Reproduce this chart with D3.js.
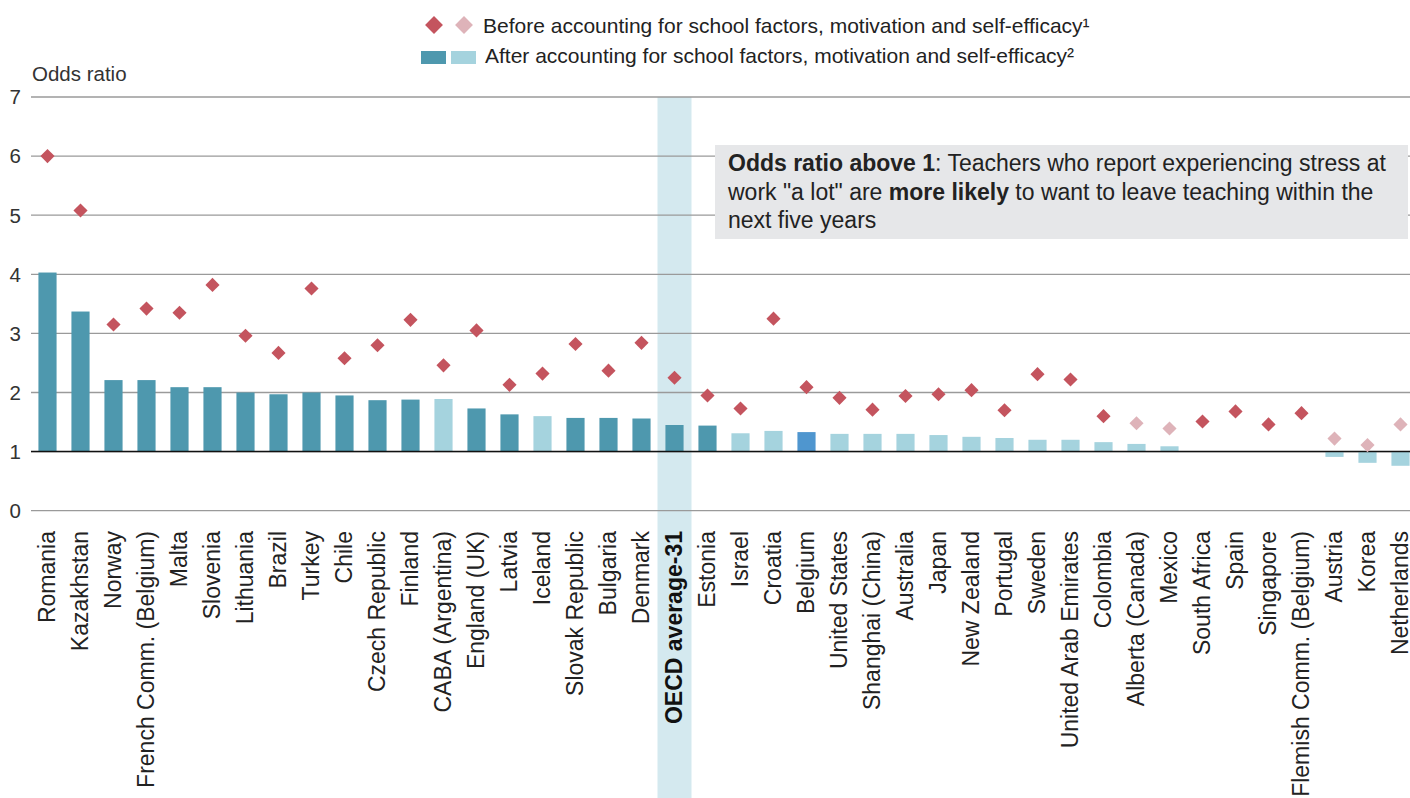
<!DOCTYPE html>
<html>
<head>
<meta charset="utf-8">
<script src="https://cdn.jsdelivr.net/npm/d3@7"></script>
<style>
  body { margin: 0; background: #fff; }
  svg { font-family: "Liberation Sans", Arial, sans-serif; display: block; }
</style>
</head>
<body>
<div id="chart"></div>
<script>
// countries in the order they appear
const countries = [
  'Romania', 'Kazakhstan', 'Norway', 'French Comm. (Belgium)', 'Malta', 'Slovenia',
  'Lithuania', 'Brazil', 'Turkey', 'Chile', 'Czech Republic', 'Finland',
  'CABA (Argentina)', 'England (UK)', 'Latvia', 'Iceland', 'Slovak Republic',
  'Bulgaria', 'Denmark', 'OECD average-31', 'Estonia', 'Israel', 'Croatia',
  'Belgium', 'United States', 'Shanghai (China)', 'Australia', 'Japan',
  'New Zealand', 'Portugal', 'Sweden', 'United Arab Emirates', 'Colombia',
  'Alberta (Canada)', 'Mexico', 'South Africa', 'Spain', 'Singapore',
  'Flemish Comm. (Belgium)', 'Austria', 'Korea', 'Netherlands'
];

// odds ratio after accounting for school factors (bars), null = not shown
const afterValues = [
  4.03, 3.37, 2.21, 2.21, 2.09, 2.09, 2.00, 1.97, 2.00, 1.95, 1.87, 1.88,
  1.89, 1.73, 1.63, 1.60, 1.57, 1.57, 1.56, 1.45, 1.44, 1.31, 1.35, 1.33,
  1.30, 1.30, 1.30, 1.28, 1.25, 1.23, 1.20, 1.20, 1.16, 1.13, 1.09,
  null, null, null, null, 0.91, 0.81, 0.76
];
// 'sig' = significant, 'ns' = not significant, 'hl' = highlighted
const afterType = [
  'sig', 'sig', 'sig', 'sig', 'sig', 'sig', 'sig', 'sig', 'sig', 'sig', 'sig', 'sig',
  'ns', 'sig', 'sig', 'ns', 'sig', 'sig', 'sig', 'sig', 'sig', 'ns', 'ns', 'hl',
  'ns', 'ns', 'ns', 'ns', 'ns', 'ns', 'ns', 'ns', 'ns', 'ns', 'ns',
  'ns', 'ns', 'ns', 'ns', 'ns', 'ns', 'ns'
];

// odds ratio before accounting (diamonds)
const beforeValues = [
  6.00, 5.08, 3.15, 3.42, 3.35, 3.82, 2.96, 2.67, 3.76, 2.58, 2.80, 3.23,
  2.46, 3.05, 2.13, 2.32, 2.82, 2.37, 2.84, 2.25, 1.95, 1.73, 3.25, 2.09,
  1.91, 1.71, 1.94, 1.97, 2.04, 1.70, 2.31, 2.22, 1.60, 1.48, 1.39,
  1.51, 1.68, 1.46, 1.65, 1.22, 1.11, 1.46
];
const beforeSig = [
  true, true, true, true, true, true, true, true, true, true, true, true,
  true, true, true, true, true, true, true, true, true, true, true, true,
  true, true, true, true, true, true, true, true, true, false, false,
  true, true, true, true, false, false, false
];

const yTicks = [0, 1, 2, 3, 4, 5, 6, 7];

const width = 1410, height = 798;
const plotLeft = 31, plotRight = 1417, plotTop = 97, plotBottom = 510.7;

const barColor = { sig: '#4e98ae', ns: '#a5d3de', hl: '#4f96cf' };
const diamondColor = { true: '#c4545e', false: '#deb3b9' };

const svg = d3.select('#chart').append('svg')
  .attr('width', width)
  .attr('height', height);

const x = d3.scaleBand()
  .domain(countries)
  .range([plotLeft, plotRight])
  .paddingInner(0.45)
  .paddingOuter(0.225);

const y = d3.scaleLinear()
  .domain([0, 7])
  .range([plotBottom, plotTop]);

const oecd = 'OECD average-31';

// highlight band for the OECD average
svg.append('rect')
  .attr('x', x(oecd) + x.bandwidth() / 2 - 17)
  .attr('y', y(7))
  .attr('width', 34)
  .attr('height', height - y(7))
  .attr('fill', '#d4e9ef');

// gridlines
svg.append('g').selectAll('line')
  .data(yTicks)
  .join('line')
  .attr('x1', plotLeft)
  .attr('x2', width)
  .attr('y1', d => y(d))
  .attr('y2', d => y(d))
  .attr('stroke', '#9a9a9a')
  .attr('stroke-width', 1.3);

// tick labels
svg.append('g').selectAll('text')
  .data(yTicks)
  .join('text')
  .attr('x', 21)
  .attr('y', d => y(d))
  .attr('dy', '0.36em')
  .attr('text-anchor', 'end')
  .attr('font-size', 20.5)
  .attr('fill', '#333')
  .text(d => d);

svg.append('text')
  .attr('x', 32)
  .attr('y', 81)
  .attr('font-size', 20.5)
  .attr('fill', '#333')
  .text('Odds ratio');

// note box
const box = svg.append('g').attr('transform', 'translate(715,145)');
box.append('rect')
  .attr('width', 693)
  .attr('height', 94)
  .attr('fill', '#e6e7e9');
const noteLines = [
  [['Odds ratio above 1', true], [': Teachers who report experiencing stress at', false]],
  [['work "a lot" are ', false], ['more likely', true], [' to want to leave teaching within the', false]],
  [['next five years', false]]
];
noteLines.forEach((parts, i) => {
  const t = box.append('text')
    .attr('x', 13)
    .attr('y', 26 + i * 28.5)
    .attr('font-size', 23)
    .attr('fill', '#222');
  parts.forEach(p => {
    t.append('tspan')
      .attr('font-weight', p[1] ? 'bold' : 'normal')
      .text(p[0]);
  });
});

// bars, drawn from the odds ratio of 1
const barData = countries.map((c, i) => ({ c, v: afterValues[i], t: afterType[i] }))
  .filter(d => d.v !== null);

svg.append('g').selectAll('rect')
  .data(barData)
  .join('rect')
  .attr('x', d => x(d.c))
  .attr('width', x.bandwidth())
  .attr('y', d => y(Math.max(d.v, 1)))
  .attr('height', d => Math.abs(y(d.v) - y(1)))
  .attr('fill', d => barColor[d.t]);

// reference line at 1
svg.append('line')
  .attr('x1', plotLeft)
  .attr('x2', width)
  .attr('y1', y(1))
  .attr('y2', y(1))
  .attr('stroke', '#111')
  .attr('stroke-width', 1.5);

// diamonds
const diamond = d3.symbol().type(d3.symbolSquare).size(100);
svg.append('g').selectAll('path')
  .data(countries.map((c, i) => ({ c, v: beforeValues[i], s: beforeSig[i] })))
  .join('path')
  .attr('d', diamond)
  .attr('transform', d => `translate(${x(d.c) + x.bandwidth() / 2},${y(d.v)}) rotate(45)`)
  .attr('fill', d => diamondColor[d.s]);

// country labels
svg.append('g').selectAll('text')
  .data(countries)
  .join('text')
  .attr('transform', d => `translate(${x(d) + x.bandwidth() / 2},531) rotate(-90)`)
  .attr('dy', '0.33em')
  .attr('text-anchor', 'end')
  .attr('font-size', 23)
  .attr('font-weight', d => d === oecd ? 'bold' : 'normal')
  .attr('fill', d => d === oecd ? '#111' : '#222')
  .text(d => d);

// legend
const legendDiamond = d3.symbol().type(d3.symbolSquare).size(160);
const legend = svg.append('g');
legend.append('path')
  .attr('d', legendDiamond)
  .attr('transform', 'translate(434,25) rotate(45)')
  .attr('fill', diamondColor[true]);
legend.append('path')
  .attr('d', legendDiamond)
  .attr('transform', 'translate(464,25) rotate(45)')
  .attr('fill', diamondColor[false]);
legend.append('text')
  .attr('x', 483)
  .attr('y', 25)
  .attr('dy', '0.36em')
  .attr('font-size', 21)
  .attr('fill', '#222')
  .text('Before accounting for school factors, motivation and self-efficacy¹');
legend.append('rect')
  .attr('x', 421).attr('y', 51).attr('width', 25).attr('height', 13)
  .attr('fill', barColor.sig);
legend.append('rect')
  .attr('x', 451).attr('y', 51).attr('width', 25).attr('height', 13)
  .attr('fill', barColor.ns);
legend.append('text')
  .attr('x', 485)
  .attr('y', 55)
  .attr('dy', '0.36em')
  .attr('font-size', 21)
  .attr('fill', '#222')
  .text('After accounting for school factors, motivation and self-efficacy²');
</script>
</body>
</html>
